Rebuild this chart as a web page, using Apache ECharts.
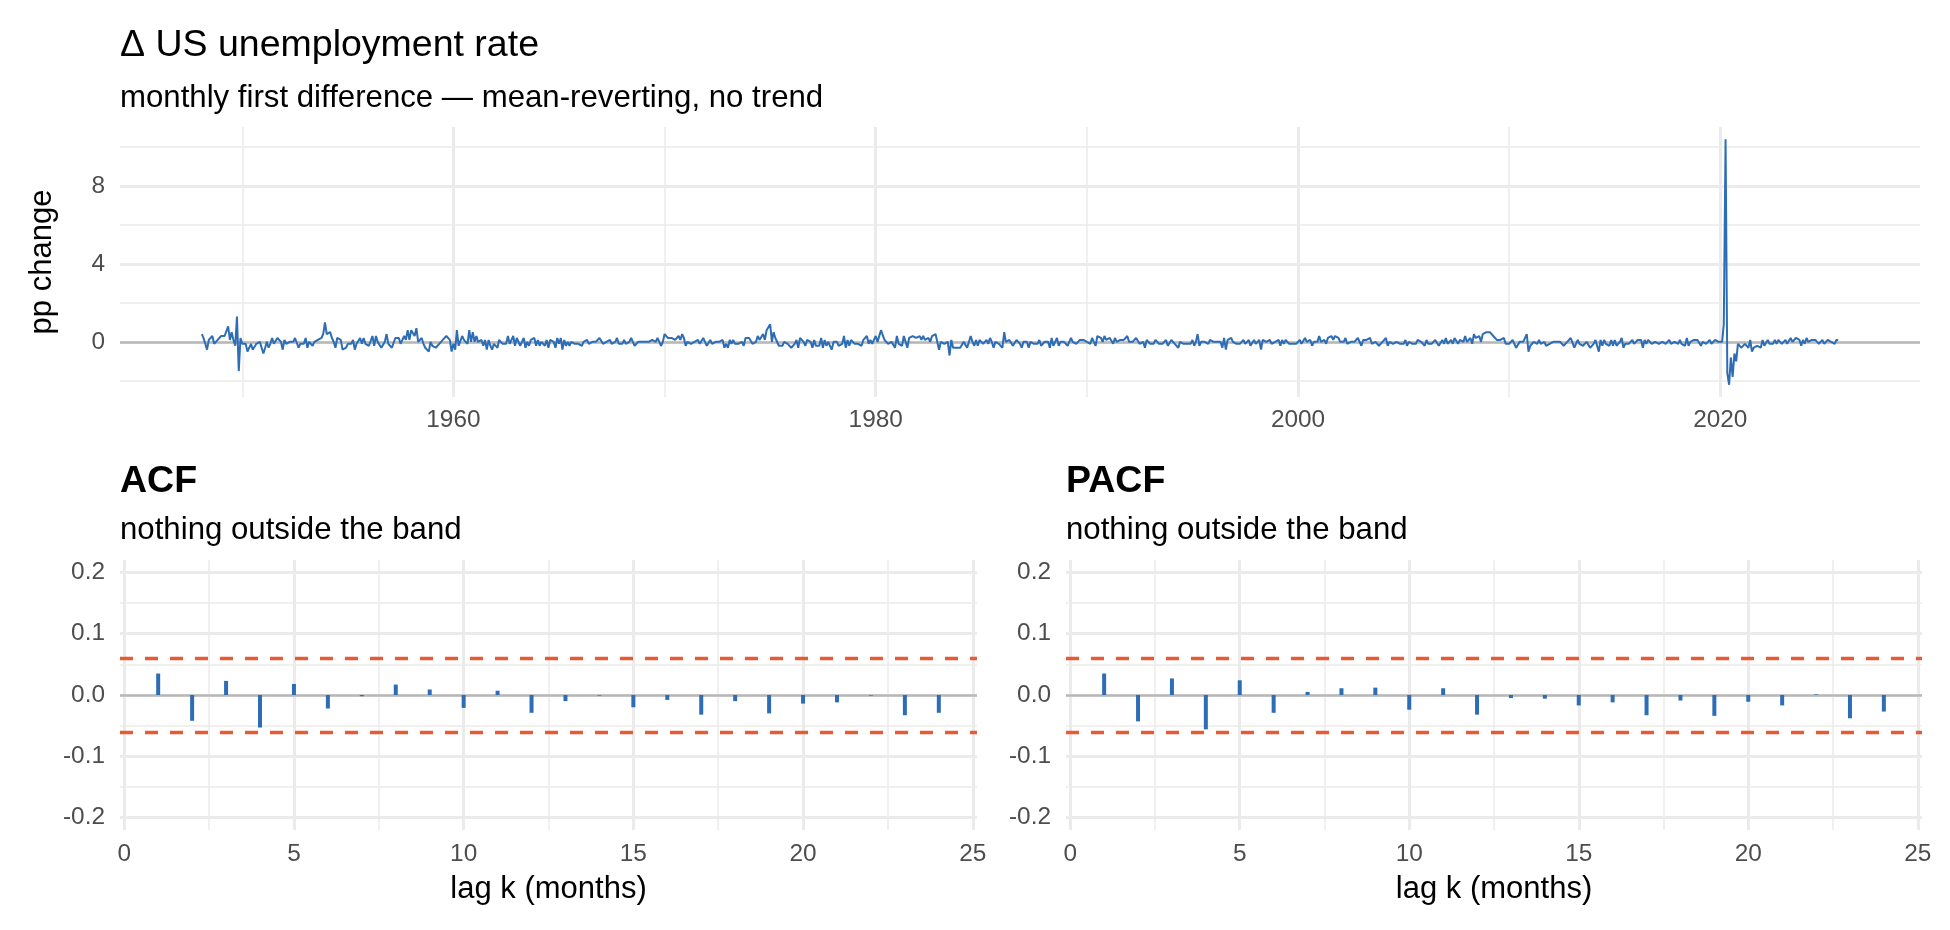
<!DOCTYPE html>
<html>
<head>
<meta charset="utf-8">
<title>Δ US unemployment rate</title>
<script src="https://cdn.jsdelivr.net/npm/echarts@6.0.0/dist/echarts.min.js"></script>
<style>
html, body { margin: 0; padding: 0; background: #fff; }
#main_chart { width: 1950px; height: 930px; }
</style>
</head>
<body>
<div id="main_chart"></div>
<script>
// monthly change of the US unemployment rate (pp), first value = Feb 1948
const firstYear = 1948;
const firstMonth = 2;

const d1940s = [
    0.4, 0.2, -0.1, -0.4, 0.1, 0.0, 0.3, -0.1, -0.1, 0.1, 0.2,
    0.3, 0.4, 0.3, 0.3, 0.8, 0.1, 0.5, 0.1, -0.2, 1.3, -1.5, 0.2
];
const d1950s = [
    -0.1, -0.1, -0.1, -0.5, -0.3, -0.1, -0.4, -0.5, -0.1, -0.2, 0.0, 0.1,
    -0.6, -0.3, 0.0, -0.3, -0.1, 0.2, -0.1, 0.0, 0.2, 0.2, 0.0, -0.4,
    0.1, -0.1, -0.2, 0.0, 0.1, 0.0, 0.2, 0.2, -0.3, -0.1, -0.2, -0.1,
    0.2, -0.3, 0.0, 0.1, -0.2, 0.0, 0.1, 0.1, 0.2, 0.2, 0.4, 1.0,
    0.4, 0.3, 0.5, 0.2, 0.0, -0.3, 0.2, 0.2, 0.1, -0.4, -0.4, -0.3,
    -0.1, -0.2, -0.1, 0.1, -0.4, -0.1, -0.2, 0.2, -0.1, 0.2, -0.1, 0.0,
    -0.2, -0.1, 0.3, -0.2, 0.3, 0.0, 0.1, -0.3, -0.2, 0.0, 0.4, -0.1,
    0.0, -0.3, -0.2, 0.2, 0.2, 0.2, -0.1, -0.1, 0.3, 0.1, 0.6, 0.1,
    0.6, 0.6, 0.3, 0.7, 0.0, -0.1, 0.2, -0.1, -0.3, -0.4, -0.5, 0.0,
    -0.2, -0.1, -0.3, -0.4, -0.1, -0.1, 0.1, 0.1, 0.3, 0.2, 0.1, -0.5
];
const d1960s = [
    -0.1, -0.4, 0.6, -0.2, -0.1, 0.3, 0.1, 0.1, -0.1, 0.6, 0.0, 0.5,
    0.0, 0.3, 0.0, 0.1, 0.1, -0.2, 0.1, -0.4, 0.1, -0.2, -0.4, -0.1,
    -0.2, -0.3, 0.1, 0.0, -0.1, 0.0, -0.1, 0.3, -0.1, -0.2, 0.3, -0.2,
    0.2, 0.2, -0.2, 0.0, 0.2, -0.3, 0.0, -0.2, 0.1, 0.0, 0.2, -0.2,
    0.1, -0.2, 0.0, -0.1, -0.2, 0.1, -0.3, 0.1, 0.1, 0.0, -0.3, 0.2,
    -0.1, 0.2, -0.4, 0.1, -0.2, 0.0, -0.2, 0.0, -0.1, -0.1, -0.1, -0.1,
    0.0, -0.2, 0.0, 0.0, 0.1, -0.1, 0.0, 0.0, -0.1, 0.0, -0.1, 0.2,
    0.1, -0.1, 0.0, 0.0, 0.0, 0.1, -0.1, 0.0, 0.0, 0.2, -0.1, -0.1,
    -0.1, 0.1, -0.1, -0.2, 0.0, 0.2, 0.0, -0.2, -0.1, 0.0, 0.0, 0.0,
    0.0, 0.0, 0.0, 0.0, 0.0, 0.1, 0.0, 0.0, 0.2, 0.0, -0.2, 0.0
];
const d1970s = [
    0.4, 0.3, 0.2, 0.2, 0.2, 0.1, 0.1, 0.1, 0.3, 0.1, 0.4, 0.2,
    -0.2, 0.0, 0.1, -0.1, 0.0, 0.0, 0.1, 0.1, -0.1, -0.2, 0.2, 0.0,
    -0.2, -0.1, 0.1, -0.1, 0.0, 0.0, -0.1, 0.0, -0.1, 0.1, -0.3, -0.1,
    -0.3, 0.1, -0.1, 0.1, -0.1, 0.0, -0.1, 0.0, 0.0, -0.2, 0.2, 0.1,
    0.2, 0.1, -0.1, 0.0, 0.0, 0.3, 0.1, 0.0, 0.4, 0.1, 0.6, 0.6,
    0.9, 0.0, 0.5, 0.2, 0.2, -0.2, -0.2, -0.2, 0.0, 0.0, -0.1, -0.1,
    -0.3, -0.2, -0.1, 0.1, -0.3, 0.2, 0.2, 0.0, -0.2, 0.1, 0.1, 0.0,
    -0.3, 0.1, -0.2, -0.2, -0.2, 0.2, -0.3, 0.1, -0.2, 0.0, 0.0, -0.4,
    0.0, -0.1, 0.0, -0.2, -0.1, -0.1, 0.3, -0.3, 0.1, -0.2, 0.1, 0.1,
    -0.1, 0.0, -0.1, 0.0, -0.2, 0.1, 0.0, 0.3, -0.1, 0.1, -0.1, 0.1
];
const d1980s = [
    0.3, 0.0, 0.0, 0.6, 0.6, 0.1, 0.2, -0.1, -0.2, 0.0, 0.0, -0.3,
    0.3, -0.1, 0.0, -0.2, 0.3, 0.0, -0.3, 0.2, 0.2, 0.3, 0.4, 0.2,
    0.1, 0.3, 0.1, 0.3, 0.1, 0.2, 0.2, 0.0, 0.3, 0.3, 0.4, 0.0,
    -0.4, 0.0, -0.1, -0.1, -0.1, 0.0, -0.7, 0.1, -0.3, -0.4, -0.3, -0.2,
    -0.3, -0.2, 0.0, -0.1, -0.3, -0.2, 0.3, 0.0, -0.2, 0.1, -0.2, 0.1,
    0.0, -0.1, 0.0, 0.1, -0.1, 0.2, 0.0, -0.3, 0.0, 0.0, -0.1, 0.0,
    -0.3, 0.5, 0.0, -0.1, 0.1, 0.0, -0.2, -0.1, 0.1, 0.0, -0.1, -0.3,
    0.0, 0.0, 0.0, -0.3, 0.0, -0.1, -0.1, -0.1, -0.1, 0.1, -0.2, -0.1,
    0.0, 0.0, 0.0, -0.3, 0.2, -0.2, 0.0, 0.2, -0.2, 0.0, -0.1, 0.0,
    0.1, -0.2, -0.2, 0.2, 0.0, 0.1, -0.1, 0.0, 0.1, 0.0, 0.1, 0.0
];
const d1990s = [
    0.0, -0.1, -0.1, 0.2, 0.0, -0.2, 0.3, 0.2, 0.2, 0.0, 0.3, 0.1,
    0.1, 0.2, 0.2, -0.1, 0.2, 0.0, -0.1, 0.1, 0.0, 0.1, 0.0, 0.3,
    0.0, 0.1, 0.0, 0.0, 0.2, 0.2, -0.1, -0.1, 0.0, -0.3, 0.1, 0.0,
    -0.1, -0.2, -0.1, 0.1, 0.0, -0.1, -0.1, -0.1, -0.1, 0.1, -0.2, -0.1,
    0.1, 0.0, -0.1, -0.1, -0.3, 0.0, 0.0, -0.1, -0.1, -0.1, -0.2, -0.1,
    0.1, -0.2, 0.0, 0.4, -0.2, 0.0, 0.1, 0.0, -0.1, -0.1, 0.1, 0.0,
    0.0, -0.1, 0.0, 0.1, 0.0, -0.3, 0.2, -0.4, 0.1, 0.0, 0.2, 0.0,
    -0.1, -0.1, 0.0, -0.1, -0.2, 0.1, -0.1, -0.1, 0.1, -0.2, -0.1, 0.1,
    -0.1, 0.0, 0.1, -0.4, 0.1, 0.1, 0.0, 0.0, 0.1, -0.1, -0.1, 0.0,
    -0.1, 0.1, -0.2, 0.1, -0.1, 0.1, 0.0, -0.1, 0.0, -0.1, 0.0, -0.1
];
const d2000s = [
    0.0, 0.1, -0.1, -0.2, 0.2, 0.0, 0.0, 0.1, -0.2, 0.0, 0.0, 0.0,
    0.3, 0.0, 0.1, 0.1, -0.1, 0.2, 0.1, 0.3, 0.1, 0.3, 0.2, 0.2,
    0.0, 0.0, 0.0, 0.2, -0.1, 0.0, 0.0, -0.1, 0.0, 0.0, 0.2, 0.1,
    -0.2, 0.1, 0.0, 0.1, 0.1, 0.2, -0.1, -0.1, 0.0, -0.1, -0.2, -0.1,
    0.0, -0.1, 0.2, -0.2, 0.0, 0.0, -0.1, -0.1, 0.0, 0.1, -0.1, 0.0,
    -0.1, 0.1, -0.2, 0.0, -0.1, -0.1, 0.0, -0.1, 0.1, 0.0, 0.0, -0.1,
    -0.2, 0.1, -0.1, 0.0, -0.1, 0.0, 0.1, 0.0, -0.2, -0.1, 0.1, -0.1,
    0.2, -0.1, -0.1, 0.1, -0.1, 0.2, 0.1, -0.1, 0.1, 0.0, 0.0, 0.3,
    0.0, -0.1, 0.2, -0.1, 0.4, 0.2, 0.2, 0.3, 0.0, 0.4, 0.3, 0.5,
    0.5, 0.5, 0.4, 0.3, 0.4, 0.1, 0.0, 0.1, 0.2, 0.2, -0.1, 0.0
];
const d2010s = [
    -0.1, 0.0, 0.1, 0.0, -0.3, -0.2, 0.0, 0.1, 0.0, -0.1, 0.4, -0.5,
    -0.2, -0.1, 0.0, 0.1, -0.1, 0.1, -0.1, 0.0, 0.0, -0.2, -0.2, -0.1,
    -0.2, 0.0, -0.1, 0.0, 0.0, 0.0, 0.0, -0.2, -0.2, 0.0, -0.1, 0.2,
    0.1, -0.3, -0.2, 0.1, -0.1, 0.0, -0.2, -0.1, 0.0, 0.0, -0.3, -0.2,
    -0.1, 0.1, 0.0, -0.5, 0.1, -0.2, 0.1, -0.1, -0.2, -0.2, 0.1, -0.2,
    0.1, -0.2, -0.1, 0.0, 0.2, -0.3, -0.1, -0.1, -0.1, 0.0, 0.1, -0.1,
    -0.2, 0.1, 0.1, 0.1, -0.3, 0.1, -0.1, 0.1, 0.1, -0.1, -0.2, 0.0,
    0.0, -0.1, -0.2, 0.0, 0.0, -0.1, 0.0, 0.1, -0.1, -0.1, 0.0, -0.1,
    -0.1, 0.1, -0.1, 0.0, -0.2, 0.2, -0.2, 0.0, -0.1, 0.1, 0.0, 0.1,
    0.1, -0.2, 0.0, -0.1, -0.1, 0.0, 0.1, -0.1, -0.1, 0.1, 0.0, 0.0
];
const d2020s = [
    -0.1, 0.0, 0.9, 10.4, -1.6, -2.2, -0.8, -1.8, -0.6, -1.0, -0.1, 0.0,
    -0.3, -0.2, -0.1, 0.0, -0.3, 0.1, -0.5, -0.3, -0.4, -0.2, -0.3, -0.3,
    0.1, -0.2, -0.2, 0.1, -0.1, 0.0, -0.1, 0.1, -0.1, 0.1, 0.0, -0.1,
    0.0, 0.1, -0.1, -0.1, 0.2, 0.0, -0.1, 0.2, 0.1, 0.1, -0.2, 0.1,
    -0.1, 0.2, 0.0, 0.0, 0.1, 0.1, 0.1, 0.0, -0.1, 0.0, 0.1, -0.1,
    -0.1, 0.1, 0.1, 0.0, 0.0, -0.1, 0.1, 0.1
];

// correlogram, lags 1..24
const lags = [1, 2, 3, 4, 5, 6, 7, 8, 9, 10, 11, 12, 13, 14, 15, 16, 17, 18, 19, 20, 21, 22, 23, 24];
const acfValues = [0.035, -0.042, 0.023, -0.053, 0.018, -0.022, -0.002, 0.017, 0.009, -0.021, 0.007, -0.029,
    -0.010, -0.001, -0.020, -0.008, -0.032, -0.010, -0.030, -0.014, -0.012, -0.001, -0.033, -0.029];
const pacfValues = [0.035, -0.043, 0.027, -0.056, 0.024, -0.029, 0.005, 0.011, 0.012, -0.024, 0.011, -0.032,
    -0.005, -0.006, -0.017, -0.012, -0.033, -0.009, -0.034, -0.011, -0.017, 0.001, -0.038, -0.027];
const bandLimit = 0.064;

// ticks
const yearTicks = [1960, 1980, 2000, 2020];
const yearMinor = [1950, 1970, 1990, 2010];
const ppTicks = [0, 4, 8];
const ppMinor = [-2, 2, 6, 10];
const lagTicks = [0, 5, 10, 15, 20, 25];
const lagMinor = [2.5, 7.5, 12.5, 17.5, 22.5];
const corrTicks = [-0.2, -0.1, 0, 0.1, 0.2];
const corrMinor = [-0.15, -0.05, 0.05, 0.15];

const diffs = [].concat(d1940s, d1950s, d1960s, d1970s, d1980s, d1990s, d2000s, d2010s, d2020s);
const lineData = diffs.map(function (v, i) {
    const m = firstMonth - 1 + i;
    return [Date.UTC(firstYear + Math.floor(m / 12), m % 12, 1), v];
});

const FONT = '"Liberation Sans", Arial, Helvetica, sans-serif';
const BLUE = '#2D6DB5';
const RED = '#E65A35';
const GRID = '#EBEBEB';
const ZERO = '#B8B8B8';

const tStart = lineData[0][0];
const tEnd = lineData[lineData.length - 1][0];
const tPad = (tEnd - tStart) * 0.05;
const yLo = Math.min.apply(null, diffs);
const yHi = Math.max.apply(null, diffs);
const yPad = (yHi - yLo) * 0.05;
const yearTs = function (y) { return Date.UTC(y, 0, 1); };

function gridLine(key, v, w, color) {
    const item = { lineStyle: { color: color || GRID, width: w, type: 'solid' } };
    item[key] = v;
    return item;
}
function helper(xi, yi, items) {
    return {
        type: 'line', xAxisIndex: xi, yAxisIndex: yi, data: [], silent: true,
        markLine: { silent: true, z: 0, symbol: ['none', 'none'], label: { show: false },
            animation: false, emphasis: { disabled: true }, data: items }
    };
}
function corrGridItems() {
    return [].concat(
        corrMinor.map(v => gridLine('yAxis', v, 1.5)),
        lagMinor.map(v => gridLine('xAxis', v, 1.5)),
        corrTicks.map(v => gridLine('yAxis', v, 3)),
        lagTicks.map(v => gridLine('xAxis', v, 3)),
        [gridLine('yAxis', 0, 2.5, ZERO)]
    );
}
const axisText = { color: '#4D4D4D', fontSize: 24.4, fontFamily: FONT };
const nameText = { color: '#000', fontSize: 31, fontFamily: FONT };
const hidden = { axisLine: { show: false }, axisTick: { show: false }, splitLine: { show: false } };

function lagAxis(gi) {
    return Object.assign({
        type: 'value', gridIndex: gi, min: -0.125, max: 25.125,
        axisLabel: Object.assign({ customValues: lagTicks, margin: 12 }, axisText),
        name: 'lag k (months)', nameLocation: 'middle', nameGap: 44, nameTextStyle: nameText
    }, hidden);
}
function corrAxis(gi) {
    return Object.assign({
        type: 'value', gridIndex: gi, min: -0.22, max: 0.22,
        axisLabel: Object.assign({ customValues: corrTicks, margin: 15,
            formatter: v => v.toFixed(1) }, axisText)
    }, hidden);
}
function stems(xi, yi, vals) {
    return {
        type: 'bar', xAxisIndex: xi, yAxisIndex: yi, z: 3, barWidth: 4,
        itemStyle: { color: BLUE }, silent: true,
        data: lags.map((k, i) => [k, vals[i]]),
        markLine: { silent: true, z: 4, symbol: ['none', 'none'], label: { show: false }, animation: false,
            lineStyle: { color: RED, width: 3.4, type: [13, 12] },
            data: [{ yAxis: bandLimit }, { yAxis: -bandLimit }] }
    };
}

const myChart = echarts.init(document.getElementById('main_chart'));

const titleStyle = { fontSize: 37.5, fontWeight: 'normal', color: '#000', fontFamily: FONT };
const subStyle = { fontSize: 31.2, fontWeight: 'normal', color: '#000', fontFamily: FONT };
const panelStyle = { fontSize: 37.5, fontWeight: 'bold', color: '#000', fontFamily: FONT };

const option = {
    animation: false,
    backgroundColor: '#fff',
    textStyle: { fontFamily: FONT },
    title: [
        { text: 'Δ US unemployment rate', left: 120, top: 27, padding: 0, textStyle: titleStyle },
        { text: 'monthly first difference — mean-reverting, no trend', left: 120, top: 83, padding: 0, textStyle: subStyle },
        { text: 'ACF', left: 120, top: 463, padding: 0, textStyle: panelStyle },
        { text: 'nothing outside the band', left: 120, top: 515, padding: 0, textStyle: subStyle },
        { text: 'PACF', left: 1066, top: 463, padding: 0, textStyle: panelStyle },
        { text: 'nothing outside the band', left: 1066, top: 515, padding: 0, textStyle: subStyle }
    ],
    grid: [
        { left: 120, top: 127, width: 1800, height: 270 },
        { left: 120, top: 560, width: 857, height: 270 },
        { left: 1066, top: 560, width: 856, height: 270 }
    ],
    xAxis: [
        Object.assign({
            type: 'value', gridIndex: 0, min: tStart - tPad, max: tEnd + tPad,
            axisLabel: Object.assign({ customValues: yearTicks.map(yearTs), margin: 11,
                formatter: v => String(new Date(v + 864e5).getUTCFullYear()) }, axisText)
        }, hidden),
        lagAxis(1),
        lagAxis(2)
    ],
    yAxis: [
        Object.assign({
            type: 'value', gridIndex: 0, min: yLo - yPad, max: yHi + yPad,
            axisLabel: Object.assign({ customValues: ppTicks, margin: 15 }, axisText),
            name: 'pp change', nameLocation: 'middle', nameGap: 62, nameRotate: 90, nameTextStyle: nameText
        }, hidden),
        corrAxis(1),
        corrAxis(2)
    ],
    series: [
        helper(0, 0, [].concat(
            ppMinor.map(v => gridLine('yAxis', v, 1.5)),
            yearMinor.map(y => gridLine('xAxis', yearTs(y), 1.5)),
            ppTicks.map(v => gridLine('yAxis', v, 3)),
            yearTicks.map(y => gridLine('xAxis', yearTs(y), 3)),
            [gridLine('yAxis', 0, 2.5, ZERO)]
        )),
        {
            type: 'line', xAxisIndex: 0, yAxisIndex: 0, z: 3, data: lineData,
            showSymbol: false, symbol: 'none', silent: true,
            lineStyle: { color: BLUE, width: 2 }
        },
        helper(1, 1, corrGridItems()),
        stems(1, 1, acfValues),
        helper(2, 2, corrGridItems()),
        stems(2, 2, pacfValues)
    ]
};

myChart.setOption(option);
window.onresize = function () {
    myChart.resize();
};
</script>
</body>
</html>
